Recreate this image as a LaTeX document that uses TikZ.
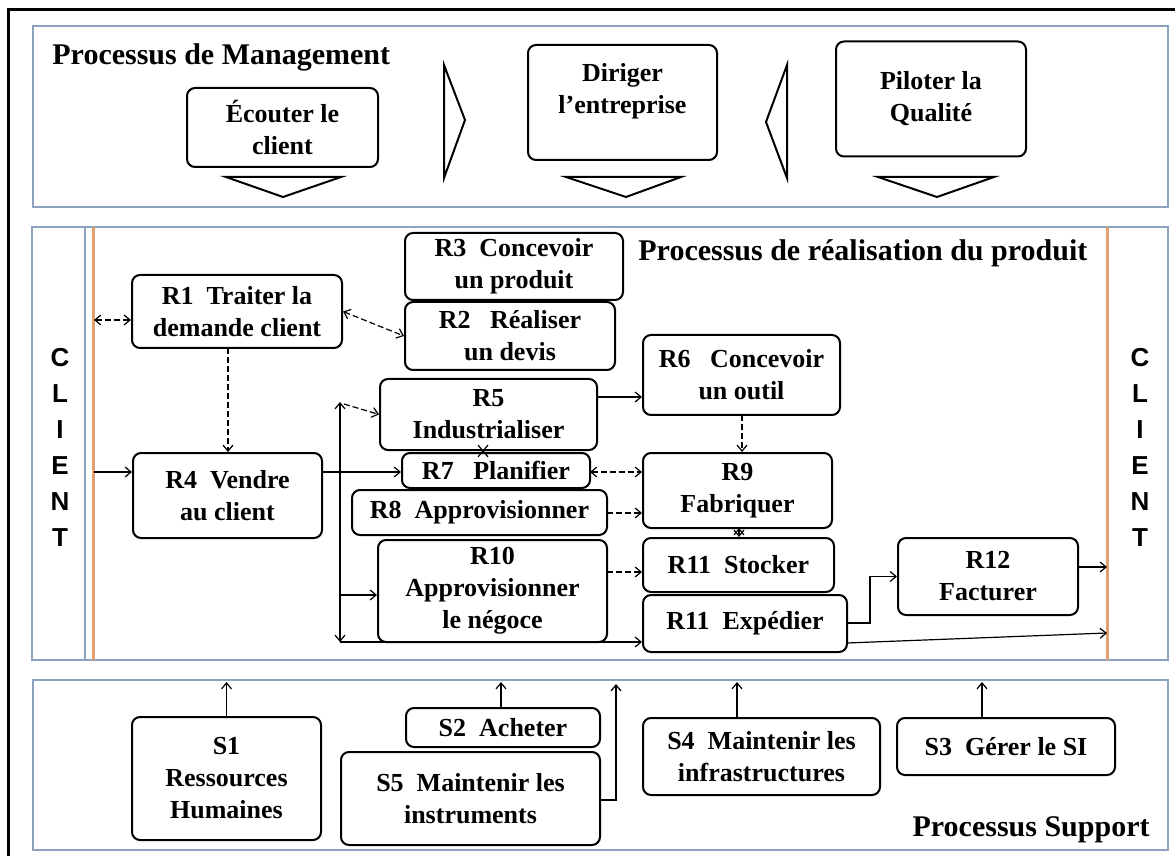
\documentclass[tikz,border=0pt]{standalone}
\usepackage{fontspec}
\setmainfont{Liberation Serif}
\newfontfamily\clientfont{Liberation Sans}
\usetikzlibrary{arrows.meta}
\definecolor{panelc}{RGB}{140,162,192}
\definecolor{orangec}{RGB}{226,160,112}
\begin{document}
\begin{tikzpicture}[x=0.5pt,y=-0.5pt,
 >={Straight Barb[length=3pt,width=5pt]},
 box/.style={draw, line width=1pt, rounded corners=4pt, inner sep=1pt, align=center, font=\bfseries\fontsize{13}{16}\selectfont},
 panel/.style={draw=panelc, line width=1.2pt},
 title/.style={font=\bfseries\fontsize{15}{18}\selectfont, inner sep=0pt},
 txt/.style={align=center, font=\bfseries\fontsize{13}{16}\selectfont, inner sep=0pt},
 clientcol/.style={align=center, inner sep=0pt, font=\clientfont\bfseries\fontsize{13}{18}\selectfont},
 conn/.style={line width=0.6pt, ->},
 dconn/.style={conn, dash pattern=on 3pt off 1.5pt},
 tri/.style={draw, line width=1pt, line join=miter},
 ]
\useasboundingbox (0,0) rectangle (1175,856);
% outer frame
\draw[line width=1.5pt] (8,870) -- (8,10) -- (1185,10);
% panels
\draw[panel] (33,26) rectangle (1168,207);
\draw[panel] (32,227) rectangle (1168,660);
\draw[panel] (33,680) rectangle (1168,850);
\draw[panelc, line width=0.8pt] (85,227) -- (85,660);
\draw[orangec, line width=1.5pt] (93,227) -- (93,660);
\draw[orangec, line width=1.5pt] (1107,227) -- (1107,660);

% titles
\node[title, anchor=west] (tmgmt) at (52,57) {Processus de Management};
\node[title, anchor=west] (treal) at (638,253) {Processus de réalisation du produit};
\node[title, anchor=east] (tsupp) at (1150,830) {Processus Support};
\node[clientcol] (clientL) at (60,447) {C\\L\\I\\E\\N\\T};
\node[clientcol] (clientR) at (1140,447) {C\\L\\I\\E\\N\\T};

% management
\node[box, minimum width=95.5pt, minimum height=39.5pt] (ecouter) at (282.5,127.5) {Écouter le\\client};
\node[box, minimum width=94.5pt, minimum height=57.5pt] (diriger) at (622.5,102.5) {};
\node[txt] (dirigert) at (622.5,91) {Diriger\\l’entreprise};
\node[box, minimum width=95pt, minimum height=57.5pt] (piloter) at (931,99) {Piloter la\\Qualité};
\draw[tri] (226,177) -- (341,177) -- (283,197) -- cycle;
\draw[tri] (566,177) -- (681,177) -- (626,197) -- cycle;
\draw[tri] (878,177) -- (994,177) -- (937,197) -- cycle;
\draw[tri] (444,65) -- (465,120) -- (444,178) -- cycle;
\draw[tri] (787,65) -- (766,122) -- (787,178) -- cycle;

% realisation
\node[box, minimum width=105pt, minimum height=36.5pt] (R1) at (237,311.5) {R1\ \ Traiter la\\demande client};
\node[box, minimum width=109pt, minimum height=33.5pt] (R3) at (514,266.5) {R3\ \ Concevoir\\un produit};
\node[box, minimum width=105pt, minimum height=34pt] (R2) at (510,336) {R2\ \ \ Réaliser\\un devis};
\node[box, minimum width=94.5pt, minimum height=42.5pt] (R4) at (227.5,495.5) {R4\ \ Vendre\\au client};
\node[box, minimum width=108.5pt, minimum height=35.5pt] (R5) at (488.5,414.5) {R5\\Industrialiser};
\node[box, minimum width=94pt, minimum height=17.5pt] (R7) at (496,470.5) {R7\ \ \ Planifier};
\node[box, minimum width=127.5pt, minimum height=22.5pt] (R8) at (479.5,512.5) {R8\ \ Approvisionner};
\node[box, minimum width=114.5pt, minimum height=51pt] (R10) at (492.5,591) {R10\\Approvisionner\\le négoce};
\node[box, minimum width=98.5pt, minimum height=40pt] (R6) at (741.5,375) {R6\ \ \ Concevoir\\un outil};
\node[box, minimum width=94.5pt, minimum height=37.5pt] (R9) at (737.5,490.5) {R9\\Fabriquer};
\node[box, minimum width=95.5pt, minimum height=27pt] (R11s) at (738.5,565) {R11\ \ Stocker};
\node[box, minimum width=102pt, minimum height=28.5pt] (R11e) at (745,623.5) {R11\ \ Expédier};
\node[box, minimum width=90pt, minimum height=38.5pt] (R12) at (988,576.5) {R12\\Facturer};

% support
\node[box, minimum width=94.5pt, minimum height=61.5pt] (S1) at (226.5,778.5) {S1\\Ressources\\Humaines};
\node[box, minimum width=97pt, minimum height=19.5pt] (S2) at (503,727.5) {S2\ \ Acheter};
\node[box, minimum width=129.5pt, minimum height=46.5pt] (S5) at (470.5,798.5) {S5\ \ Maintenir les\\instruments};
\node[box, minimum width=118.5pt, minimum height=38.5pt] (S4) at (761.5,756.5) {S4\ \ Maintenir les\\infrastructures};
\node[box, minimum width=109pt, minimum height=28.5pt] (S3) at (1006,746.5) {S3\ \ Gérer le SI};

% connectors in realisation
\coordinate (cL1) at (94,320);
\draw[dconn,<->] (cL1) -- (cL1 -| R1.west);
\coordinate (cL2) at (94,472);
\draw[conn] (cL2) -- (cL2 -| R4.west);
\draw[dconn,<->] (R1.east) -- (R2.west);
\coordinate (a14) at (228,348);
\draw[dconn] (a14) -- (a14 |- R4.north);
\coordinate (a47) at (322,472);
\draw[conn] (a47) -- (a47 -| R7.west);
\coordinate (vt) at (340,402);
\coordinate (vb) at (340,642);
\draw[conn,<->] (vt) -- (vb);
\draw[conn] (vb) -- (vb -| R11e.west);
\coordinate (vr5) at (344,404);
\draw[dconn] (vr5) -- (R5.west);
\coordinate (v10) at (340,595);
\draw[conn] (v10) -- (v10 -| R10.west);
\coordinate (a56) at (597,397);
\draw[conn] (a56) -- (a56 -| R6.west);
\coordinate (a57) at (483,450);
\draw[line width=0.6pt,<->] (a57) -- (a57 |- R7.north);
\coordinate (a79) at (590,472);
\draw[dconn,<->] (a79) -- (a79 -| R9.west);
\coordinate (a89) at (607,513);
\draw[dconn] (a89) -- (a89 -| R9.west);
\coordinate (a1011) at (607,572);
\draw[dconn] (a1011) -- (a1011 -| R11s.west);
\coordinate (a69) at (742,415);
\draw[dconn] (a69) -- (a69 |- R9.north);
\coordinate (a911) at (739,528);
\draw[line width=0.6pt,<->] (a911) -- (a911 |- R11s.north);
\coordinate (e12) at (847,623);
\draw[conn] (e12) -- ++(23,0) |- (R12.west);
\coordinate (cR1) at (1107,567);
\draw[conn] (R12.east |- cR1) -- (cR1);
\coordinate (e2) at (847,643);
\coordinate (cR2) at (1107,633);
\draw[conn] (e2) -- (cR2);

% support connectors
\coordinate (ptop) at (0,682);
\draw[conn] (S1.north) -- (S1.north |- ptop);
\coordinate (s2a) at (501,708);
\draw[conn] (s2a) -- (s2a |- ptop);
\coordinate (s5a) at (600,800);
\draw[conn] (s5a) -- (616,800) -- (616,684);
\coordinate (s4a) at (737,718);
\draw[conn] (s4a) -- (s4a |- ptop);
\coordinate (s3a) at (982,718);
\draw[conn] (s3a) -- (s3a |- ptop);
\end{tikzpicture}
\end{document}
